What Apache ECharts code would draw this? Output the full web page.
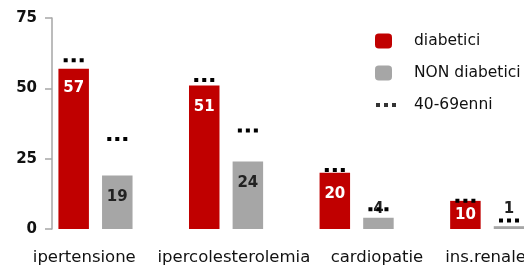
<!DOCTYPE html>
<html><head><meta charset="utf-8">
<script src="https://cdn.jsdelivr.net/npm/echarts@6/dist/echarts.min.js"></script>
<style>html,body{margin:0;padding:0;background:#fff;overflow:hidden;width:524px;height:266px}#c{width:575px;height:266px}</style>
</head><body><div id="c"></div>
<script>
// ---- data ----
const categories = ['ipertensione', 'ipercolesterolemia', 'cardiopatie', 'ins.renale'];
const diabetici = [57, 51, 20, 10];
const nonDiabetici = [19, 24, 4, 1];
const eta4069Diabetici = [60, 53, 21, 10];
const eta4069NonDiabetici = [32, 35, 7, 3];
const yTicks = [0, 25, 50, 75];
const seriesNames = ['diabetici', 'NON diabetici', '40-69enni'];

// ---- styles ----
const RED = '#C00000', GRAY = '#A6A6A6', TXT = '#111';
const FONT = '"DejaVu Sans", Verdana, sans-serif';
const dotsPath = 'path://M0,0h4v4h-4z M8,0h4v4h-4z M16,0h4v4h-4z';
const labelShift = [66, 28, 3, 47];

const chart = echarts.init(document.getElementById('c'), null, {renderer: 'canvas'});

function barLabel(i, val, kind) {
  const base = {show: true, fontFamily: FONT, fontWeight: 'bold', fontSize: 15};
  if (kind === 'd') {
    let dist = 14;
    if (i === 0) dist = 12;
    if (val <= 12) dist = 7;
    return Object.assign(base, {position: 'insideTop', distance: dist, color: '#fff'});
  }
  if (val >= 10) return Object.assign(base, {position: 'insideTop', distance: 14, color: '#222'});
  return Object.assign(base, {position: 'top', distance: i === 3 ? 10 : 1, color: '#222'});
}

const rich = {};
labelShift.forEach((p, i) => {
  rich['l' + i] = {padding: [0, p, 0, 0], fontSize: 16.5, fontFamily: FONT, color: TXT};
});

const dotMark = (arr) => ({
  symbol: dotsPath, symbolSize: [20, 4], symbolKeepAspect: false,
  itemStyle: {color: '#000'}, label: {show: false}, silent: true,
  data: arr.map((v, i) => ({coord: [categories[i], v]}))
});

chart.setOption({
  animation: false,
  grid: {left: 52, top: 18, bottom: 36, right: 0.7, containLabel: false},
  legend: [{
    data: [seriesNames[0], seriesNames[1]], orient: 'vertical', left: 375, top: 33, padding: 0,
    itemWidth: 17, itemHeight: 15, itemGap: 16, icon: 'roundRect',
    formatter: n => '{p| }{t|' + n + '}',
    textStyle: {rich: {p: {width: 17}, t: {fontSize: 15.5, fontFamily: FONT, color: TXT, lineHeight: 15}}}
  }, {
    data: [seriesNames[2]], orient: 'vertical', left: 376, top: 97, padding: 0,
    itemWidth: 20, itemHeight: 4, icon: dotsPath,
    formatter: n => '{p| }{t|' + n + '}',
    textStyle: {rich: {p: {width: 13}, t: {fontSize: 15.5, fontFamily: FONT, color: TXT, lineHeight: 15}}}
  }],
  xAxis: {
    type: 'category', data: categories,
    axisLine: {show: false}, axisTick: {show: false},
    axisLabel: {margin: 20, interval: 0, fontSize: 16.5, fontFamily: FONT, color: TXT,
      formatter: (v, i) => '{l' + i + '|' + v + '}', rich: rich}
  },
  yAxis: {
    type: 'value', min: yTicks[0], max: yTicks[yTicks.length - 1], interval: yTicks[1] - yTicks[0],
    axisLine: {show: true, lineStyle: {color: '#A6A6A6', width: 1.5}},
    axisTick: {show: true, length: 7, lineStyle: {color: '#A6A6A6', width: 1.5}},
    splitLine: {show: false},
    axisLabel: {margin: 15, fontSize: 15, fontWeight: 'bold', fontFamily: FONT, color: TXT}
  },
  series: [
    {name: seriesNames[0], type: 'bar', barWidth: 30.5, barGap: '43%', itemStyle: {color: RED},
     data: diabetici.map((v, i) => ({value: v, label: barLabel(i, v, 'd')})),
     markPoint: dotMark(eta4069Diabetici)},
    {name: seriesNames[1], type: 'bar', barWidth: 30.5, barGap: '43%', itemStyle: {color: GRAY},
     data: nonDiabetici.map((v, i) => ({value: v, label: barLabel(i, v, 'n')})),
     markPoint: dotMark(eta4069NonDiabetici)},
    {name: '_slot', type: 'bar', barWidth: 30.5, barGap: '43%', data: []},
    {name: seriesNames[2], type: 'scatter', data: [], itemStyle: {color: '#000'}}
  ]
});
</script>
</body></html>
